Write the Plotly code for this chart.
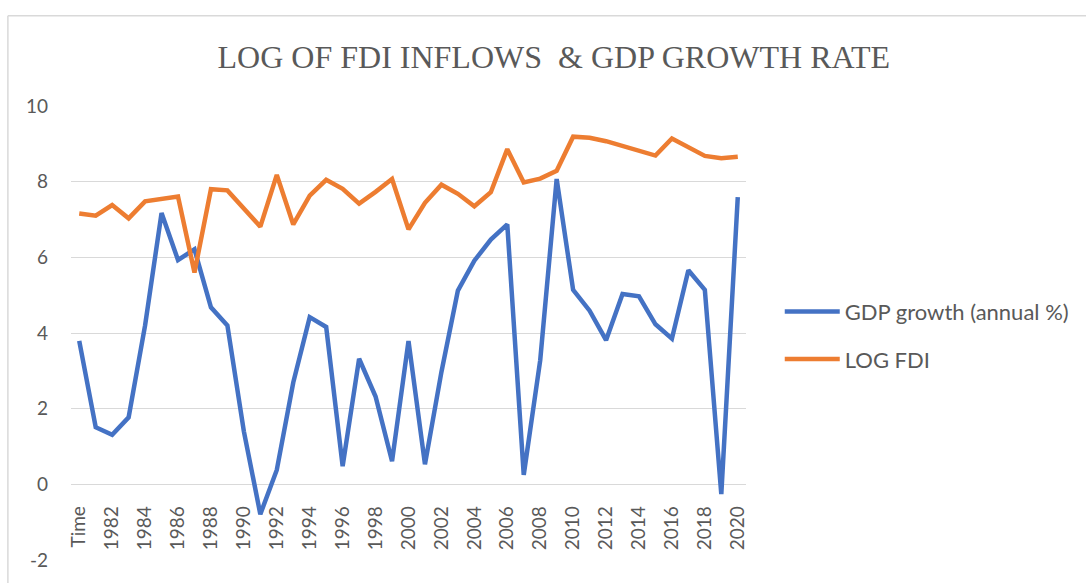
import plotly.graph_objects as go

categories = ["Time", "1981", "1982", "1983", "1984", "1985", "1986", "1987", "1988", "1989",
              "1990", "1991", "1992", "1993", "1994", "1995", "1996", "1997", "1998", "1999",
              "2000", "2001", "2002", "2003", "2004", "2005", "2006", "2007", "2008", "2009",
              "2010", "2011", "2012", "2013", "2014", "2015", "2016", "2017", "2018", "2019", "2020"]

gdp_growth = [3.79, 1.51, 1.31, 1.77, 4.2, 7.17, 5.93, 6.21, 4.68, 4.20,
              1.40, -0.79, 0.38, 2.69, 4.42, 4.16, 0.48, 3.32, 2.32, 0.61,
              3.79, 0.53, 2.97, 5.12, 5.91, 6.47, 6.87, 0.25, 3.28, 8.07,
              5.14, 4.59, 3.81, 5.03, 4.97, 4.23, 3.85, 5.66, 5.14, -0.26, 7.59]

log_fdi = [7.16, 7.10, 7.38, 7.03, 7.48, 7.55, 7.61, 5.60, 7.80, 7.77,
           7.28, 6.81, 8.18, 6.87, 7.63, 8.05, 7.81, 7.42, 7.73, 8.07,
           6.74, 7.44, 7.92, 7.68, 7.35, 7.72, 8.86, 7.98, 8.08, 8.29,
           9.19, 9.16, 9.07, 8.95, 8.83, 8.69, 9.14, 8.90, 8.68, 8.62, 8.66]

tick_labels = categories[::2]
y_ticks = [-2, 0, 2, 4, 6, 8, 10]
y_tick_text = ["-2", "0", "2", "4", "6", "8", "10"]

FONT = "Lato"
GRAY = "#595959"

fig = go.Figure()
fig.add_trace(go.Scatter(x=categories, y=gdp_growth, mode="lines", name="GDP growth (annual %)",
                         line=dict(color="#4472C4", width=4.5), legendgroup="a"))
fig.add_trace(go.Scatter(x=categories, y=log_fdi, mode="lines", name="LOG FDI",
                         line=dict(color="#ED7D31", width=4.5), legendgroup="b"))

# outer chart border (light gray), partly outside the visible window
fig.add_shape(type="line", xref="paper", yref="paper", x0=-0.0935, x1=-0.0935, y0=-0.2, y1=1.1986,
              line=dict(color="#D9D9D9", width=1.5))
fig.add_shape(type="line", xref="paper", yref="paper", x0=-0.0935, x1=1.7, y0=1.1986, y1=1.1986,
              line=dict(color="#D9D9D9", width=1.5))

fig.update_layout(
    width=1086, height=583,
    margin=dict(l=71, r=336, t=106, b=21),
    paper_bgcolor="white", plot_bgcolor="white",
    title=dict(text="LOG OF FDI INFLOWS\u00a0\u00a0&amp; GDP GROWTH RATE",
               font=dict(family="Liberation Serif", size=32, color=GRAY),
               xref="container", x=0.510, xanchor="center",
               yref="container", y=1 - 57 / 583, yanchor="middle"),
    showlegend=True,
    legend=dict(x=1.050, xanchor="left", y=0.494, yanchor="middle",
                font=dict(family=FONT, size=22, color=GRAY),
                itemwidth=55, tracegroupgap=16, traceorder="grouped",
                bgcolor="rgba(0,0,0,0)"),
    xaxis=dict(type="category", categoryorder="array", categoryarray=categories,
               range=[-0.5, len(categories) - 0.5],
               tickmode="array", tickvals=tick_labels, ticktext=tick_labels,
               tickangle=-90, showgrid=False, showline=False, zeroline=False,
               ticks="", anchor="free", position=2 / 12,
               tickfont=dict(family=FONT, size=19, color=GRAY), ticklabelstandoff=17),
    yaxis=dict(range=[-2, 10], tickmode="array", tickvals=y_ticks, ticktext=y_tick_text,
               showgrid=True, gridcolor="#D9D9D9", gridwidth=1.3,
               zeroline=False, showline=False, ticks="",
               tickfont=dict(family=FONT, size=19, color=GRAY), ticklabelstandoff=22),
)

fig.write_html("out.html")
